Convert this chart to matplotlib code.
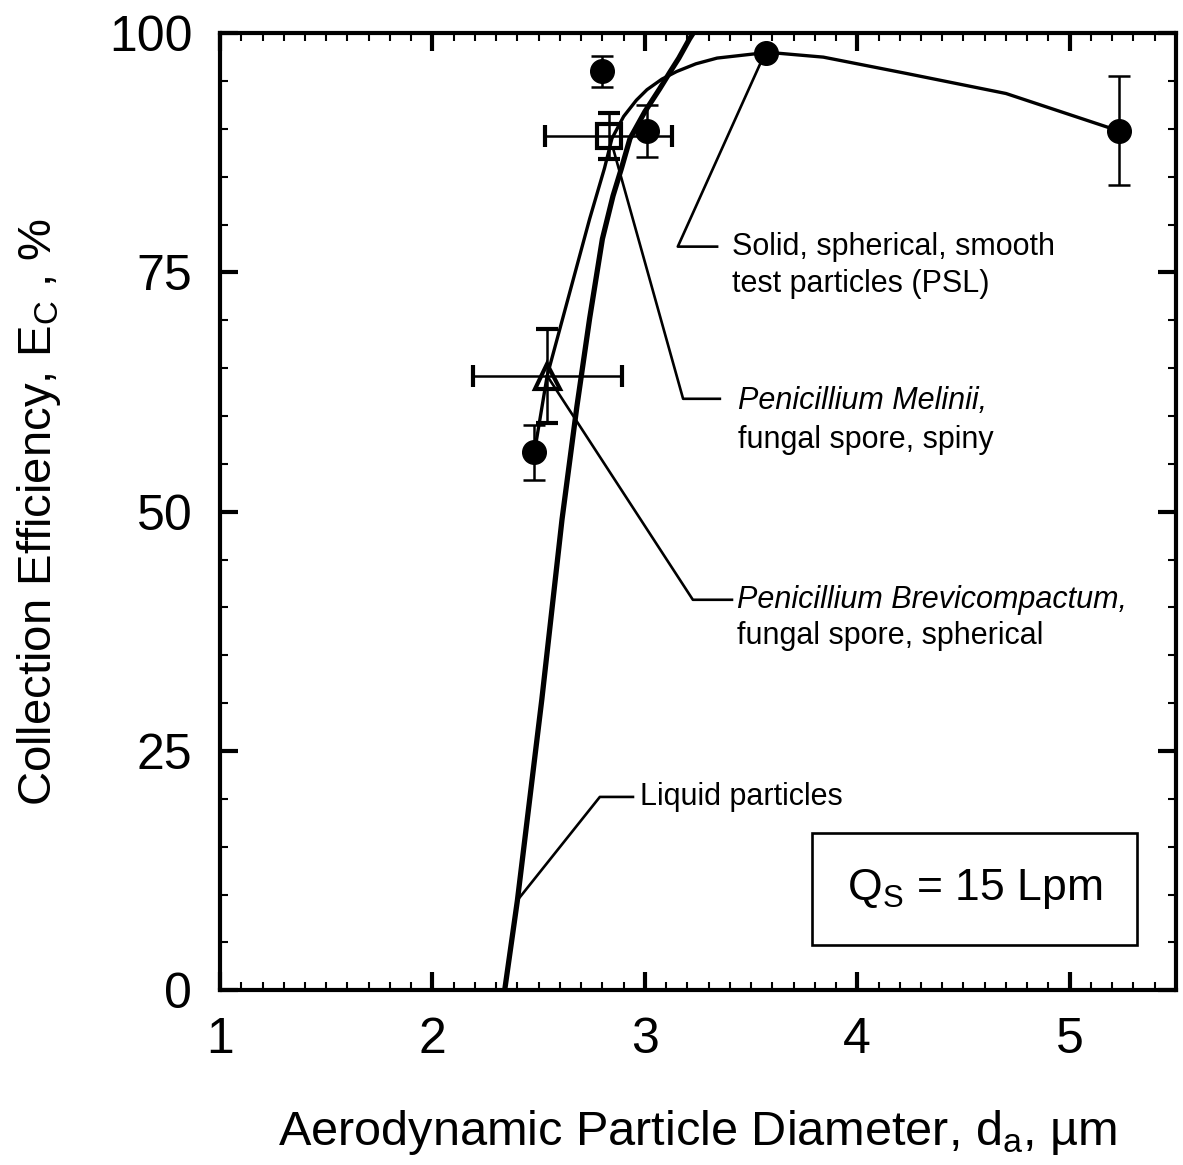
import matplotlib
matplotlib.use("Agg")
import matplotlib.pyplot as plt
from matplotlib.patches import Rectangle
from matplotlib.ticker import MultipleLocator

plt.rcParams['font.family'] = ['Liberation Sans', 'DejaVu Sans']
plt.rcParams['mathtext.fontset'] = 'custom'
plt.rcParams['mathtext.rm'] = 'Liberation Sans'
plt.rcParams['mathtext.it'] = 'Liberation Sans:italic'

# solid spherical smooth test particles (PSL), measured points
psl_x = [2.48, 2.80, 3.01, 3.57, 5.23]
psl_y = [56.2, 96.0, 89.8, 97.9, 89.8]
psl_yerr = [2.9, 1.6, 2.7, 0.0, 5.7]

# PSL fitted curve
psl_curve_x = [2.48, 2.54, 2.74, 2.81, 2.845, 2.90, 2.96, 3.01, 3.08, 3.15, 3.24, 3.34, 3.58, 3.84, 4.23, 4.70, 5.23]
psl_curve_y = [56.2, 64.2, 80.6, 85.9, 89.0, 91.3, 93.0, 94.1, 95.2, 96.0, 96.8, 97.4, 98.0, 97.5, 95.8, 93.7, 89.8]

# Penicillium Melinii (square)
mel_x = [2.83]
mel_y = [89.3]
mel_xerr = [0.30]
mel_yerr = [2.4]

# Penicillium Brevicompactum (triangle)
brev_x = [2.54]
brev_y = [64.2]
brev_xerr = [0.35]
brev_yerr = [4.9]

# liquid particles curve
liq_x = [2.34, 2.40, 2.515, 2.61, 2.68, 2.74, 2.80, 2.85, 2.89, 2.93, 3.00, 3.07, 3.12, 3.16, 3.21, 3.27]
liq_y = [0.0, 9.4, 30.4, 49.2, 61.0, 70.2, 78.5, 83.0, 85.9, 89.0, 91.8, 94.2, 96.0, 97.4, 99.4, 101.5]

fig = plt.figure(figsize=(11.83, 11.65), dpi=100)
ax = fig.add_axes([0.186, 0.150, 0.808, 0.8215])

ax.plot(liq_x, liq_y, color='black', lw=3.8, zorder=2)
ax.plot(psl_curve_x, psl_curve_y, color='black', lw=2.4, zorder=2)

ax.errorbar(psl_x, psl_y, yerr=psl_yerr, fmt='o', color='black', ms=17,
            elinewidth=1.8, capsize=8, capthick=1.8, zorder=4)
ax.errorbar(mel_x, mel_y, xerr=mel_xerr, yerr=mel_yerr, fmt='s', mfc='none', mec='black',
            mew=3.0, ms=17, ecolor='black', elinewidth=1.8, capsize=8, capthick=1.8, zorder=3)
ax.errorbar(brev_x, brev_y, xerr=brev_xerr, yerr=brev_yerr, fmt='^', mfc='none', mec='black',
            mew=3.0, ms=18, ecolor='black', elinewidth=1.8, capsize=8, capthick=1.8, zorder=3)

# callouts: horizontal stub end, elbow, target
fs = 22
ptr = dict(color='black', lw=1.9, zorder=1)

# PSL
ax.plot([3.34, 3.155, 3.555], [77.7, 77.7, 97.4], **ptr)
ax.text(3.41, 77.7, 'Solid, spherical, smooth', fontsize=fs, va='center')
ax.text(3.41, 73.8, 'test particles (PSL)', fontsize=fs, va='center')

# Melinii
ax.plot([3.353, 3.18, 2.85], [61.8, 61.8, 88.0], **ptr)
ax.text(3.44, 61.6, 'Penicillium Melinii,', fontsize=fs, style='italic', va='center')
ax.text(3.44, 57.5, 'fungal spore, spiny', fontsize=fs, va='center')

# Brevicompactum
ax.plot([3.41, 3.226, brev_x[0]], [40.8, 40.8, brev_y[0]], **ptr)
ax.text(3.433, 40.8, 'Penicillium Brevicompactum,', fontsize=fs, style='italic', va='center')
ax.text(3.433, 37.0, 'fungal spore, spherical', fontsize=fs, va='center')

# liquid
ax.plot([2.944, 2.788, liq_x[1]], [20.2, 20.2, liq_y[1]], **ptr)
ax.text(2.976, 20.2, 'Liquid particles', fontsize=fs, va='center')

# flow rate box
ax.add_patch(Rectangle((3.786, 4.7), 5.315 - 3.786, 16.4 - 4.7, fill=False,
                       edgecolor='black', lw=1.9, zorder=2))
ax.text((3.786 + 5.315) / 2, 10.6, r'Q$_\mathrm{S}$ = 15 Lpm', fontsize=32,
        ha='center', va='center')

ax.set_xlim(1, 5.5)
ax.set_ylim(0, 100)
ax.xaxis.set_major_locator(MultipleLocator(1))
ax.xaxis.set_minor_locator(MultipleLocator(0.1))
ax.yaxis.set_major_locator(MultipleLocator(25))
ax.yaxis.set_minor_locator(MultipleLocator(5))

ax.tick_params(which='both', direction='in', top=True, right=True)
ax.tick_params(which='major', length=13, width=3, labelsize=36)
ax.tick_params(which='minor', length=6, width=1.5)
ax.tick_params(axis='x', which='major', pad=19)
ax.tick_params(axis='y', which='major', pad=20)
for s in ax.spines.values():
    s.set_linewidth(3)

ax.set_xlabel(r'Aerodynamic Particle Diameter, d$_\mathrm{a}$, µm', fontsize=35, labelpad=33)
ax.set_ylabel(r'Collection Efficiency, E$_\mathrm{C}$ , %', fontsize=34, labelpad=33)

fig.savefig('out.png', dpi=100)
